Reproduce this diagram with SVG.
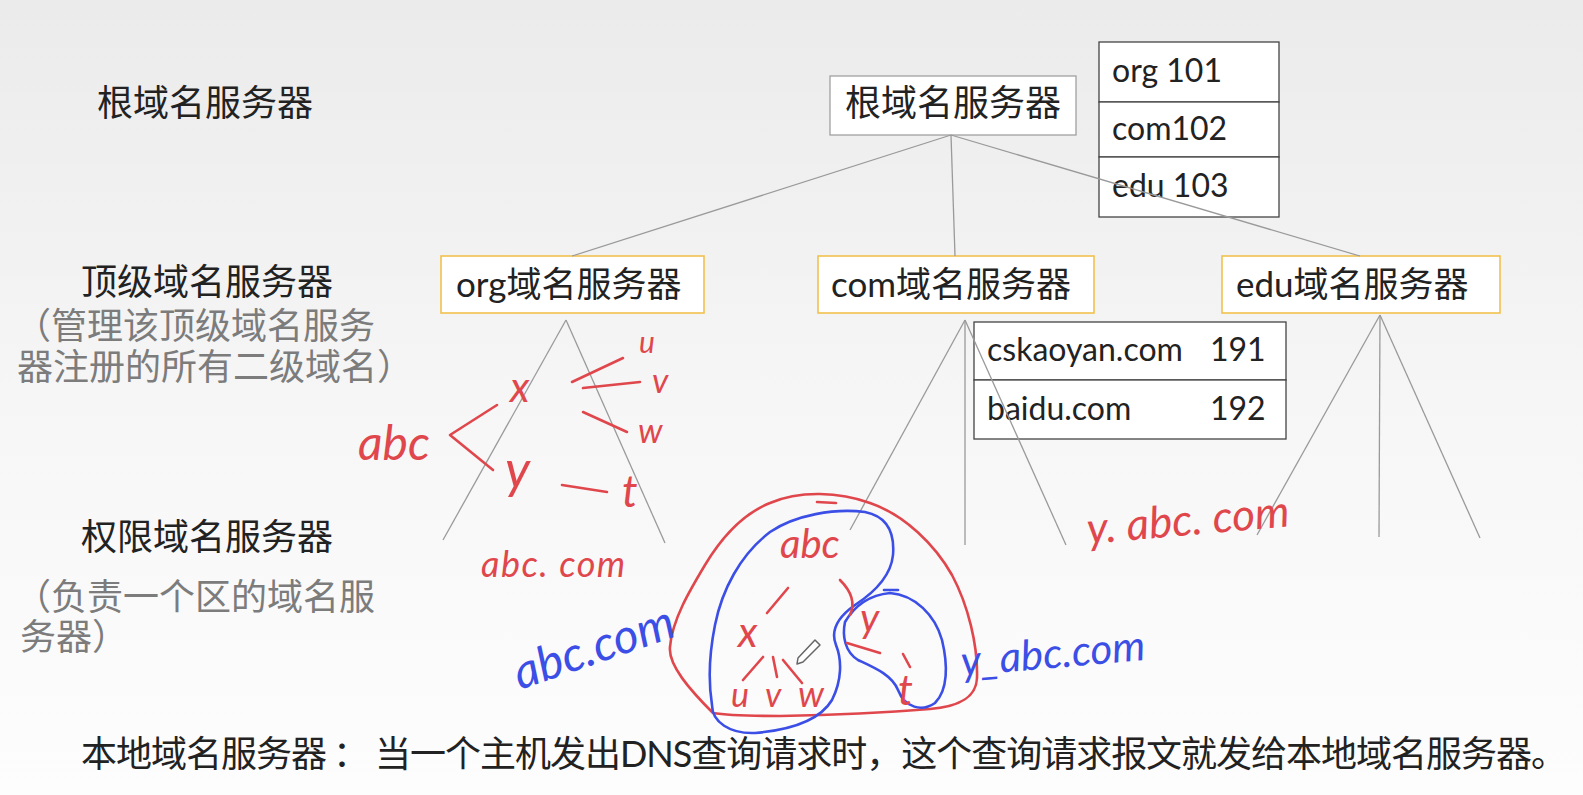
<svg xmlns="http://www.w3.org/2000/svg" width="1583" height="795" viewBox="0 0 1583 795">
<defs>
<linearGradient id="bg" x1="0" y1="0" x2="0" y2="1">
<stop offset="0" stop-color="#ebebeb"/>
<stop offset="0.55" stop-color="#f7f7f7"/>
<stop offset="1" stop-color="#fdfdfd"/>
</linearGradient>
<style>
.cjk{font-family:"Noto Sans CJK SC",sans-serif;font-size:36px;fill:#222}
.gray{fill:#7c7c7c}
.box{fill:#fff;stroke:#a0a0a0;stroke-width:1.3}
.tld{fill:#fff;stroke:#f2c14e;stroke-width:1.6}
.tbl{fill:#fff;stroke:#444;stroke-width:1.3}
.lat{font-family:Lato,"Noto Sans CJK SC",sans-serif;font-size:32px;fill:#222}
.tldt{font-family:Lato,"Noto Sans CJK SC",sans-serif;font-size:35px;fill:#222}
.conn line{stroke:#9a9a9a;stroke-width:1.3}
.rs{stroke:#e0474c;fill:none;stroke-width:2.6;stroke-linecap:round;stroke-linejoin:round}
.bs{stroke:#3b4ee6;fill:none;stroke-width:2.6;stroke-linecap:round;stroke-linejoin:round}
.hr{font-family:Lato,sans-serif;fill:#e0474c;font-style:italic}
.hb{font-family:Lato,sans-serif;fill:#3b4ee6;font-style:italic}
</style>
</defs>
<rect x="0" y="0" width="1583" height="795" fill="url(#bg)"/>

<g id="labels">
<text class="cjk" x="97" y="116">根域名服务器</text>
<text class="cjk" x="81" y="295">顶级域名服务器</text>
<text class="cjk gray" x="15" y="339">（管理该顶级域名服务</text>
<text class="cjk gray" x="17" y="380">器注册的所有二级域名）</text>
<text class="cjk" x="81" y="550">权限域名服务器</text>
<text class="cjk gray" x="15" y="610">（负责一个区的域名服</text>
<text class="cjk gray" x="20" y="650">务器）</text>
<text class="cjk" x="81" y="767" font-size="35" textLength="1486" lengthAdjust="spacing">本地域名服务器 ： 当一个主机发出<tspan font-family="Lato">DNS</tspan>查询请求时，这个查询请求报文就发给本地域名服务器。</text>
</g>

<g id="root">
<rect class="box" x="830" y="76" width="246" height="59"/>
<text class="cjk" x="845" y="116">根域名服务器</text>
</g>

<g id="root-table">
<rect class="tbl" x="1099" y="42" width="180" height="60"/>
<rect class="tbl" x="1099" y="102" width="180" height="55"/>
<rect class="tbl" x="1099" y="157" width="180" height="60"/>
<text class="lat" x="1112" y="82">org 101</text>
<text class="lat" x="1112" y="140">com102</text>
<text class="lat" x="1112" y="197">edu 103</text>
</g>

<g id="org">
<rect class="tld" x="441" y="256" width="263" height="57"/>
<text class="tldt" x="456" y="297">org域名服务器</text>
</g>
<g id="com">
<rect class="tld" x="818" y="256" width="276" height="57"/>
<text class="tldt" x="831" y="297">com域名服务器</text>
</g>
<g id="edu">
<rect class="tld" x="1222" y="256" width="278" height="57"/>
<text class="tldt" x="1236" y="297">edu域名服务器</text>
</g>

<g id="com-table">
<rect class="tbl" x="974" y="322" width="312" height="58"/>
<rect class="tbl" x="974" y="380" width="312" height="59"/>
<text class="lat" x="987" y="361">cskaoyan.com</text>
<text class="lat" x="1210" y="361">191</text>
<text class="lat" x="987" y="420">baidu.com</text>
<text class="lat" x="1210" y="420">192</text>
</g>

<g id="connectors" class="conn">
<line x1="951" y1="135" x2="572" y2="256"/>
<line x1="951" y1="135" x2="955" y2="256"/>
<line x1="951" y1="135" x2="1360" y2="256"/>
<line x1="566" y1="320" x2="443" y2="540"/>
<line x1="566" y1="320" x2="665" y2="543"/>
<line x1="965" y1="320" x2="850" y2="530"/>
<line x1="965" y1="320" x2="965" y2="545"/>
<line x1="965" y1="320" x2="1066" y2="545"/>
<line x1="1380" y1="315" x2="1257" y2="535"/>
<line x1="1380" y1="315" x2="1379" y2="537"/>
<line x1="1380" y1="315" x2="1480" y2="538"/>
</g>

<g id="org-annotation">
<path class="rs" d="M572,382 L623,358"/>
<path class="rs" d="M583,388 L640,382"/>
<path class="rs" d="M497,405 L450,435 L493,470"/>
<path class="rs" d="M583,412 L627,432"/>
<path class="rs" d="M562,485 L607,492"/>
<text class="hr" x="639" y="353" font-size="30">u</text>
<text class="hr" x="652" y="393" font-size="34">v</text>
<text class="hr" x="638" y="443" font-size="34">w</text>
<text class="hr" x="510" y="402" font-size="42">x</text>
<text class="hr" x="358" y="460" font-size="48">abc</text>
<text class="hr" x="505" y="488" font-size="52">y</text>
<text class="hr" x="622" y="507" font-size="44">t</text>
<text class="hr" x="481" y="577" font-size="36" letter-spacing="1.5">abc. com</text>
</g>

<g id="zone-annotation">
<path class="rs" d="M713,713 C690,690 668,665 670,647 C672,620 690,590 705,565 C720,540 740,515 770,503 C800,490 840,492 870,503 C905,515 935,545 952,575 C968,605 978,645 977,678 C976,700 955,707 930,709 C880,713 830,715 780,716 C755,716 730,716 713,713"/>
<path class="rs" d="M817,502 L836,503"/>
<path class="bs" d="M712,705 C708,680 710,650 715,625 C722,590 740,555 770,532 C795,515 835,508 865,512 C885,516 895,530 893,555 C891,575 875,592 855,605 C838,617 830,630 836,645 C842,660 842,680 832,700 C820,720 790,730 755,733 C730,734 712,722 712,705"/>
<path class="bs" d="M845,622 C855,605 870,595 890,593 C915,595 935,615 942,640 C948,665 948,690 935,703 C922,712 905,708 898,690 C892,675 875,668 858,660 C845,652 842,636 845,622"/>
<path class="bs" d="M884,590 L898,590"/>
<path class="rs" d="M788,588 L767,613"/>
<path class="rs" d="M840,580 Q858,598 850,615"/>
<path class="rs" d="M763,657 L743,680"/>
<path class="rs" d="M773,657 L777,677"/>
<path class="rs" d="M783,660 L802,683"/>
<path class="rs" d="M847,643 L880,653"/>
<path class="rs" d="M903,654 L910,667"/>
<text class="hr" x="780" y="558" font-size="40">abc</text>
<text class="hr" x="738" y="647" font-size="42">x</text>
<text class="hr" x="860" y="632" font-size="40">y</text>
<text class="hr" x="731" y="707" font-size="34">u</text>
<text class="hr" x="765" y="707" font-size="34">v</text>
<text class="hr" x="798" y="707" font-size="36">w</text>
<text class="hr" x="898" y="705" font-size="42">t</text>
<path d="M815,640 L820,645 L803,662 L797,664 L798,658 Z" fill="#fff" stroke="#666" stroke-width="1.5" stroke-linejoin="round"/>
<text class="hb" font-size="48" transform="translate(520,690) rotate(-19)">abc.com</text>
<text class="hb" font-size="42" transform="translate(962,676) rotate(-5)">y_abc.com</text>
<text class="hr" font-size="44" transform="translate(1088,544) rotate(-5)">y. abc. com</text>
</g>
</svg>
